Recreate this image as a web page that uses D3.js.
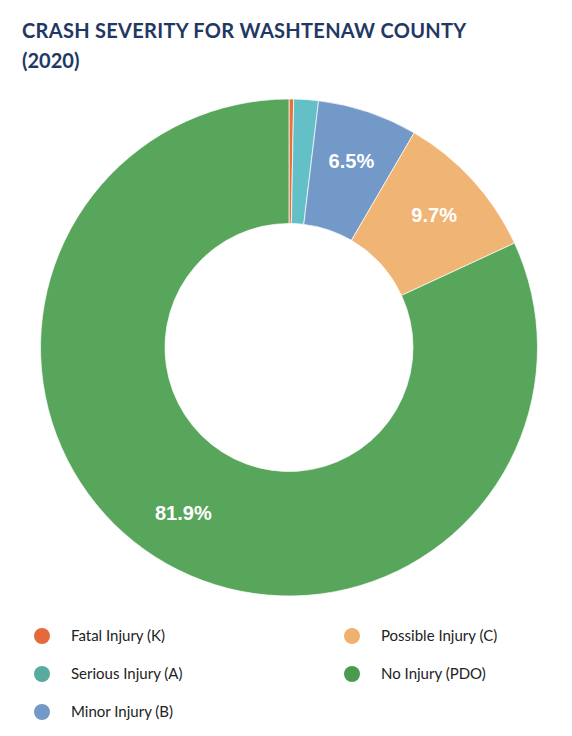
<!DOCTYPE html>
<html><head><meta charset="utf-8">
<script src="https://cdn.jsdelivr.net/npm/d3@7"></script>
<style>body{margin:0;background:#fff}</style></head>
<body><svg id="c" width="572" height="736"></svg>
<script>
const categories = ["Fatal Injury (K)","Serious Injury (A)","Minor Injury (B)","Possible Injury (C)","No Injury (PDO)"];
const values = [0.3, 1.6, 6.5, 9.7, 81.9];
const sliceColors = ["#e8703a","#62c0c6","#7399c9","#f0b475","#58a55c"];
const legendColors = ["#e46a3c","#5aab9f","#7399c9","#efb16d","#4a9a50"];
const labelMin = 5;

const svg = d3.select("#c");
svg.append("text").attr("x",22).attr("y",38).attr("fill","#1f3864")
  .attr("font-family","Lato").attr("font-weight","bold").attr("font-size",20)
  .attr("letter-spacing",0.3).text("CRASH SEVERITY FOR WASHTENAW COUNTY");
svg.append("text").attr("x",22).attr("y",68).attr("fill","#1f3864")
  .attr("font-family","Lato").attr("font-weight","bold").attr("font-size",20).text("(2020)");

const cx=289, cy=347.5, R=248.5, r=124;
const pie = d3.pie().sort(null)(values);
const arc = d3.arc().innerRadius(r).outerRadius(R);
const g = svg.append("g").attr("transform",`translate(${cx},${cy})`);
g.selectAll("path").data(pie).join("path").attr("d",arc)
  .attr("fill",(d,i)=>sliceColors[i]).attr("stroke","#fff").attr("stroke-width",0.7);
const la = d3.arc().innerRadius((r+R)/2+10).outerRadius((r+R)/2+10);
g.selectAll("text").data(pie.filter(d=>d.data>labelMin)).join("text")
  .attr("transform",d=>`translate(${la.centroid(d)})`)
  .attr("text-anchor","middle").attr("dy","0.35em")
  .attr("font-family","Liberation Sans, Arial").attr("font-weight","bold")
  .attr("font-size",20).attr("fill","#fff").text(d=>d.data.toFixed(1)+"%");

const leg = svg.append("g");
categories.forEach((c,i)=>{
  const col = i<3?0:1, row = i<3?i:i-3;
  const x = col?352:42, y = 636+row*38;
  leg.append("circle").attr("cx",x).attr("cy",y).attr("r",8).attr("fill",legendColors[i]);
  leg.append("text").attr("x",x+29).attr("y",y).attr("dy","0.35em")
    .attr("font-family","Lato").attr("font-size",15).attr("fill","#222").text(c);
});
</script></body></html>
